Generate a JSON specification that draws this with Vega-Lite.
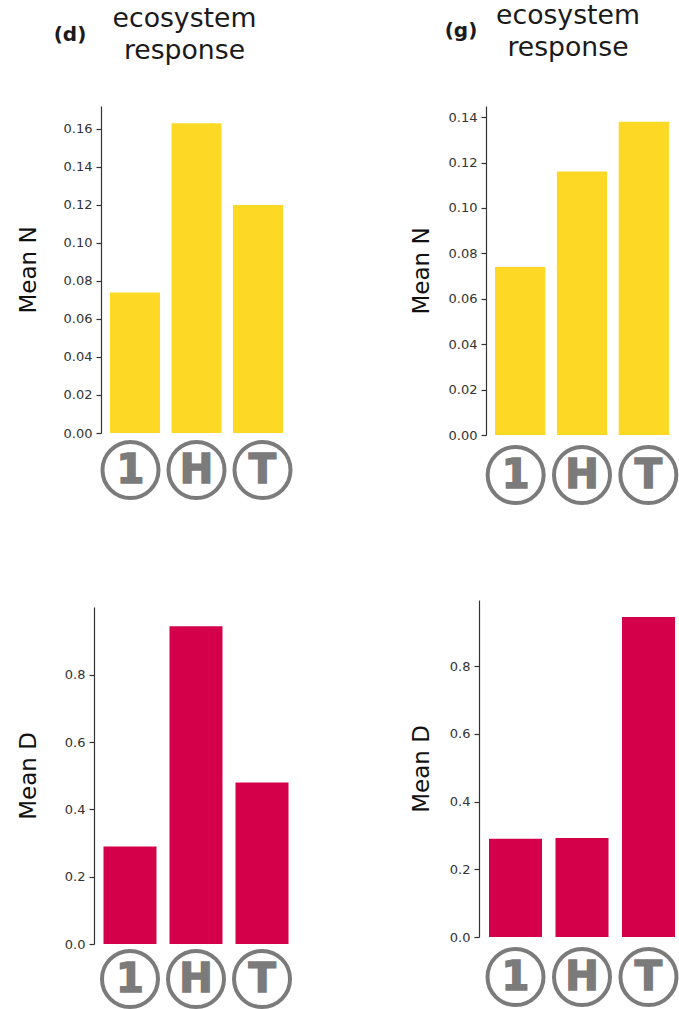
{"$schema":"https://vega.github.io/schema/vega-lite/v6.json","padding":{"left":17,"top":3,"right":0,"bottom":0},"background":"white","config":{"view":{"stroke":null},"font":"DejaVu Sans","axis":{"grid":false,"domainColor":"#333333","tickColor":"#333333","labelColor":"#333333","titleColor":"#111111","labelFont":"DejaVu Sans","titleFont":"DejaVu Sans","titleFontWeight":"normal","titleFontSize":23,"labelFontSize":13,"tickSize":5,"labelPadding":4,"domainWidth":1.2,"tickWidth":1.2}},"datasets":{"d":[{"cat":"1","val":0.074},{"cat":"H","val":0.163},{"cat":"T","val":0.12}],"g":[{"cat":"1","val":0.074},{"cat":"H","val":0.116},{"cat":"T","val":0.138}],"dl":[{"cat":"1","val":0.29},{"cat":"H","val":0.945},{"cat":"T","val":0.48}],"dr":[{"cat":"1","val":0.29},{"cat":"H","val":0.292},{"cat":"T","val":0.945}],"ld":[{"lab":"(d)"}],"lg":[{"lab":"(g)"}]},"align":"none","hconcat":[{"align":"none","vconcat":[{"width":191,"height":327,"title":{"text":["ecosystem","response"],"fontSize":26.7,"fontWeight":"normal","lineHeight":32,"color":"#1a1a1a","font":"DejaVu Sans","dx":-12,"offset":-40,"anchor":"middle"},"resolve":{"scale":{"x":"independent"}},"layer":[{"data":{"name":"d"},"mark":{"type":"bar","color":"#FDD926"},"encoding":{"x":{"field":"cat","type":"nominal","axis":null,"scale":{"paddingInner":0.187,"paddingOuter":0.146}},"y":{"field":"val","type":"quantitative","scale":{"domain":[0,0.1721],"nice":false},"axis":{"title":"Mean N","values":[0,0.02,0.04,0.06,0.08,0.1,0.12,0.14,0.16],"format":".2f","titlePadding":23}}}},{"data":{"name":"d"},"mark":{"type":"point","filled":false,"stroke":"#7b7b7b","strokeWidth":4,"size":3136,"yOffset":37,"opacity":1},"encoding":{"x":{"field":"cat","type":"nominal","axis":null,"scale":{"type":"point","padding":0.447}},"y":{"datum":0,"type":"quantitative"}}},{"data":{"name":"d"},"mark":{"type":"text","font":"DejaVu Sans","fontWeight":"bold","fontSize":40,"color":"#7b7b7b","stroke":"#7b7b7b","strokeWidth":1.5,"baseline":"middle","align":"center","yOffset":38},"encoding":{"x":{"field":"cat","type":"nominal","axis":null,"scale":{"type":"point","padding":0.447}},"y":{"datum":0,"type":"quantitative"},"text":{"field":"cat","type":"nominal"}}},{"data":{"name":"ld"},"mark":{"type":"text","font":"DejaVu Sans","fontWeight":"bold","fontSize":20,"color":"#1a1a1a","xOffset":-126.5,"yOffset":-398,"baseline":"middle"},"encoding":{"y":{"datum":0,"type":"quantitative"},"text":{"field":"lab","type":"nominal"}}}]},{"width":190,"height":337,"resolve":{"scale":{"x":"independent"}},"layer":[{"data":{"name":"dl"},"mark":{"type":"bar","color":"#D5004A"},"encoding":{"x":{"field":"cat","type":"nominal","axis":null,"scale":{"paddingInner":0.197,"paddingOuter":0.038}},"y":{"field":"val","type":"quantitative","scale":{"domain":[0,1.002],"nice":false},"axis":{"title":"Mean D","values":[0,0.2,0.4,0.6,0.8],"format":".1f","titlePadding":24,"offset":7}}}},{"data":{"name":"dl"},"mark":{"type":"point","filled":false,"stroke":"#7b7b7b","strokeWidth":4,"size":3136,"yOffset":35,"opacity":1},"encoding":{"x":{"field":"cat","type":"nominal","axis":null,"scale":{"type":"point","padding":0.439}},"y":{"datum":0,"type":"quantitative"}}},{"data":{"name":"dl"},"mark":{"type":"text","font":"DejaVu Sans","fontWeight":"bold","fontSize":40,"color":"#7b7b7b","stroke":"#7b7b7b","strokeWidth":1.5,"baseline":"middle","align":"center","yOffset":36},"encoding":{"x":{"field":"cat","type":"nominal","axis":null,"scale":{"type":"point","padding":0.439}},"y":{"datum":0,"type":"quantitative"},"text":{"field":"cat","type":"nominal"}}}]}],"spacing":101},{"align":"none","vconcat":[{"width":192,"height":329,"title":{"text":["ecosystem","response"],"fontSize":26.7,"fontWeight":"normal","lineHeight":32,"color":"#1a1a1a","font":"DejaVu Sans","dx":-14,"offset":-41,"anchor":"middle"},"resolve":{"scale":{"x":"independent"}},"layer":[{"data":{"name":"g"},"mark":{"type":"bar","color":"#FDD926"},"encoding":{"x":{"field":"cat","type":"nominal","axis":null,"scale":{"paddingInner":0.187,"paddingOuter":0.146}},"y":{"field":"val","type":"quantitative","scale":{"domain":[0,0.1449],"nice":false},"axis":{"title":"Mean N","values":[0,0.02,0.04,0.06,0.08,0.1,0.12,0.14],"format":".2f","titlePadding":15}}}},{"data":{"name":"g"},"mark":{"type":"point","filled":false,"stroke":"#7b7b7b","strokeWidth":4,"size":3136,"yOffset":40,"opacity":1},"encoding":{"x":{"field":"cat","type":"nominal","axis":null,"scale":{"type":"point","padding":0.447}},"y":{"datum":0,"type":"quantitative"}}},{"data":{"name":"g"},"mark":{"type":"text","font":"DejaVu Sans","fontWeight":"bold","fontSize":40,"color":"#7b7b7b","stroke":"#7b7b7b","strokeWidth":1.5,"baseline":"middle","align":"center","yOffset":41},"encoding":{"x":{"field":"cat","type":"nominal","axis":null,"scale":{"type":"point","padding":0.447}},"y":{"datum":0,"type":"quantitative"},"text":{"field":"cat","type":"nominal"}}},{"data":{"name":"lg"},"mark":{"type":"text","font":"DejaVu Sans","fontWeight":"bold","fontSize":20,"color":"#1a1a1a","xOffset":-121,"yOffset":-404,"baseline":"middle"},"encoding":{"y":{"datum":0,"type":"quantitative"},"text":{"field":"lab","type":"nominal"}}}]},{"width":192,"height":337,"resolve":{"scale":{"x":"independent"}},"layer":[{"data":{"name":"dr"},"mark":{"type":"bar","color":"#D5004A"},"encoding":{"x":{"field":"cat","type":"nominal","axis":null,"scale":{"paddingInner":0.203,"paddingOuter":0.045}},"y":{"field":"val","type":"quantitative","scale":{"domain":[0,0.995],"nice":false},"axis":{"title":"Mean D","values":[0,0.2,0.4,0.6,0.8],"format":".1f","titlePadding":16,"offset":7}}}},{"data":{"name":"dr"},"mark":{"type":"point","filled":false,"stroke":"#7b7b7b","strokeWidth":4,"size":3136,"yOffset":40,"opacity":1},"encoding":{"x":{"field":"cat","type":"nominal","axis":null,"scale":{"type":"point","padding":0.444}},"y":{"datum":0,"type":"quantitative"}}},{"data":{"name":"dr"},"mark":{"type":"text","font":"DejaVu Sans","fontWeight":"bold","fontSize":40,"color":"#7b7b7b","stroke":"#7b7b7b","strokeWidth":1.5,"baseline":"middle","align":"center","yOffset":41},"encoding":{"x":{"field":"cat","type":"nominal","axis":null,"scale":{"type":"point","padding":0.444}},"y":{"datum":0,"type":"quantitative"},"text":{"field":"cat","type":"nominal"}}}]}],"spacing":89}],"spacing":111}
